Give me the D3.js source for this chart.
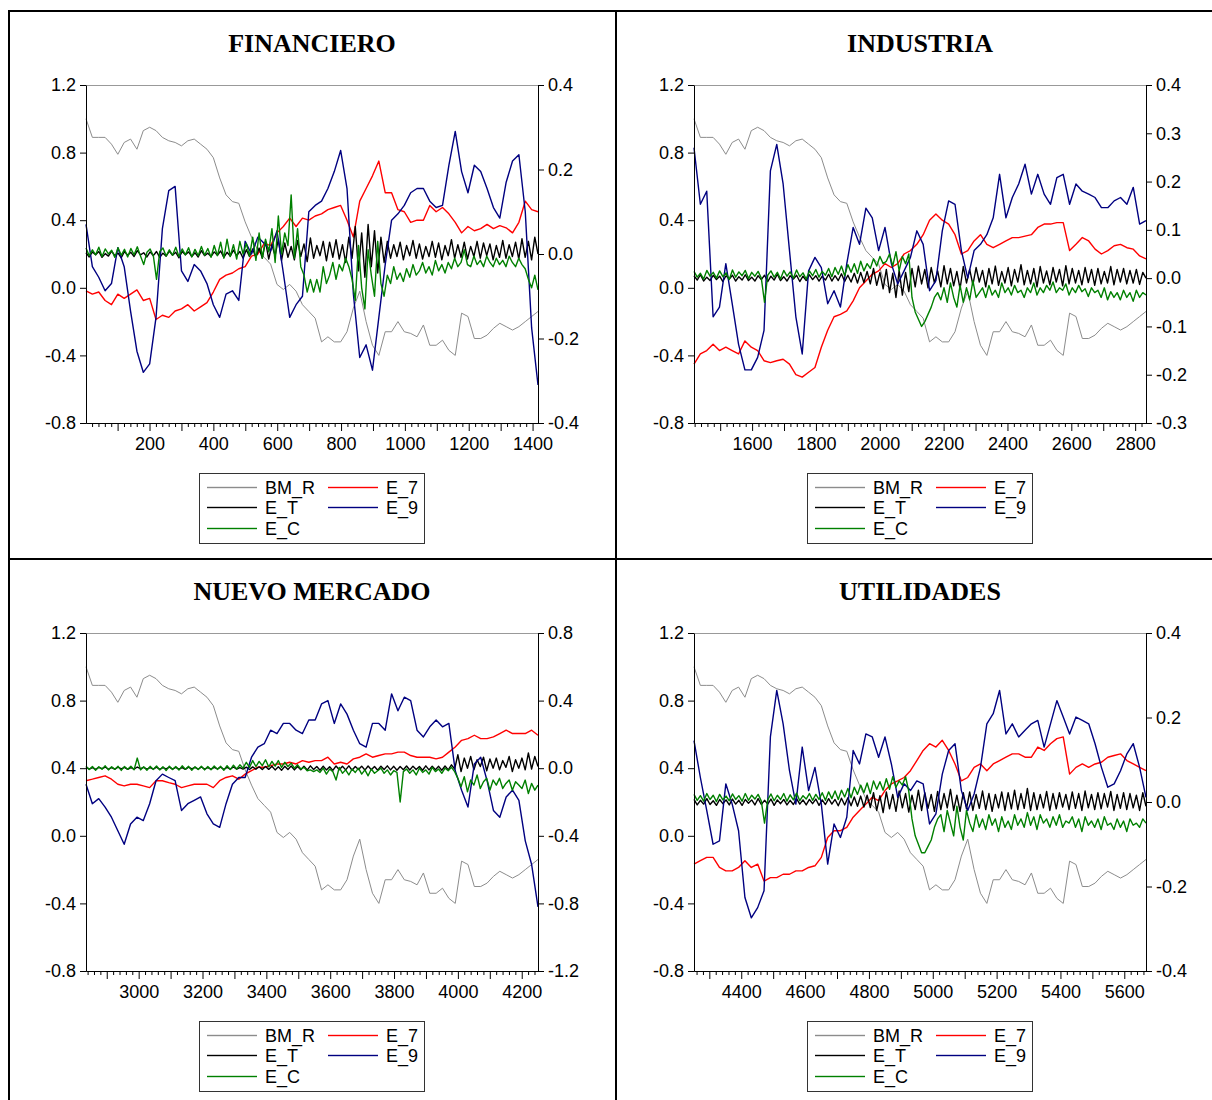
<!DOCTYPE html>
<html>
<head>
<meta charset="utf-8">
<script src="https://cdn.jsdelivr.net/npm/d3@7"></script>
<style>
body { margin: 0; background: #fff; }
svg { display: block; }
</style>
</head>
<body>
<div id="myDiv"></div>
<script>
// sampled values: E_7, E_9 and BM_R use 72 evenly spaced points per panel,
// the noisy E_T and E_C series use 142 points

// BM_R is the same series in the four panels (left axis)
let bmR = [1.00, 0.89, 0.89, 0.89, 0.85, 0.79, 0.86, 0.88, 0.82, 0.93,
    0.95, 0.93, 0.89, 0.87, 0.86, 0.84, 0.87, 0.88, 0.85, 0.82,
    0.77, 0.65, 0.55, 0.51, 0.50, 0.39, 0.30, 0.22, 0.18, 0.14,
    0.02, -0.01, 0.02, -0.02, -0.10, -0.14, -0.18, -0.32, -0.29, -0.32,
    -0.32, -0.26, -0.12, -0.02, -0.20, -0.34, -0.40, -0.26, -0.26, -0.20,
    -0.26, -0.27, -0.29, -0.22, -0.34, -0.34, -0.31, -0.37, -0.40, -0.15,
    -0.17, -0.30, -0.30, -0.28, -0.24, -0.21, -0.23, -0.25, -0.23, -0.20,
    -0.17, -0.14];

// FINANCIERO
let finE7 = [-0.087, -0.095, -0.09, -0.11, -0.12, -0.095, -0.105, -0.095, -0.085, -0.11,
    -0.105, -0.155, -0.145, -0.15, -0.135, -0.13, -0.12, -0.135, -0.125, -0.115,
    -0.09, -0.06, -0.05, -0.045, -0.035, -0.03, -0.005, 0.0, 0.025, 0.02,
    0.05, 0.065, 0.085, 0.065, 0.085, 0.08, 0.09, 0.095, 0.105, 0.11,
    0.115, 0.08, 0.04, 0.125, 0.155, 0.185, 0.22, 0.145, 0.145, 0.105,
    0.1, 0.075, 0.08, 0.08, 0.115, 0.1, 0.11, 0.095, 0.075, 0.05,
    0.065, 0.055, 0.06, 0.07, 0.06, 0.067, 0.062, 0.05, 0.075, 0.125,
    0.105, 0.1];
let finET = [0.003, -0.007, 0.005, -0.002, 0.006, -0.008, 0.001, -0.005, 0.007, -0.004,
    0.002, -0.009, 0.006, -0.003, 0.004, -0.006, 0.008, -0.002, 0.003, -0.007,
    0.005, -0.004, 0.006, -0.008, 0.002, -0.005, 0.007, -0.003, 0.004, -0.009,
    0.006, -0.002, 0.005, -0.006, 0.003, -0.007, 0.008, -0.004, 0.002, -0.006,
    0.005, -0.003, 0.007, -0.008, 0.004, -0.005, 0.009, -0.004, 0.006, -0.01,
    0.01, -0.006, 0.012, -0.008, 0.014, -0.01,
    0.03, -0.012, 0.022, -0.004, 0.035, -0.015, 0.026, -0.008, 0.018, -0.014,
    0.032, -0.006, 0.024, -0.018, 0.038, -0.01, 0.02, -0.004, 0.03, -0.016,
    0.028, -0.008, 0.034, -0.012, 0.022, -0.02, 0.04, -0.01,
    0.065, -0.04, 0.05, -0.055, 0.07, -0.03, 0.055, -0.045, 0.04, -0.02,
    0.03, -0.01, 0.022, -0.006, 0.028, -0.014, 0.02, -0.004, 0.032, -0.01,
    0.024, -0.012, 0.018, -0.006, 0.03, -0.008, 0.026, -0.014, 0.02, -0.004,
    0.034, -0.01, 0.022, -0.008, 0.028, -0.012, 0.018, -0.006, 0.03, -0.01,
    0.026, -0.004, 0.024, -0.014, 0.02, -0.008, 0.032, -0.01, 0.022, -0.006,
    0.028, -0.012, 0.036, -0.008, 0.03, -0.014, 0.04, 0.0];
let finE9 = [0.07, -0.03, -0.055, -0.087, -0.07, 0.015, -0.03, -0.135, -0.23, -0.28,
    -0.26, -0.15, 0.06, 0.15, 0.16, -0.04, -0.065, -0.025, -0.04, -0.07,
    -0.12, -0.15, -0.095, -0.087, -0.11, 0.03, 0.0, 0.04, 0.025, 0.007,
    0.055, -0.045, -0.15, -0.12, -0.10, 0.1, 0.115, 0.125, 0.155, 0.195,
    0.245, 0.155, -0.095, -0.245, -0.215, -0.275, -0.15, -0.025, 0.08, 0.095,
    0.115, 0.145, 0.155, 0.155, 0.125, 0.11, 0.115, 0.21, 0.29, 0.195,
    0.145, 0.21, 0.195, 0.155, 0.11, 0.085, 0.17, 0.22, 0.235, 0.1,
    -0.175, -0.31];
let finEC = [0.014, -0.004, 0.01, -0.002, 0.016, -0.006, 0.012, 0.0, 0.009, -0.008,
    0.015, -0.003, 0.011, -0.007, 0.013, -0.002, 0.017, -0.005, -0.025, 0.004,
    0.012, -0.004, -0.06, 0.006, 0.014, -0.005, 0.01, -0.003, 0.016, -0.006,
    0.012, -0.002, 0.015, -0.007, 0.011, -0.004, 0.018, -0.003, 0.013, -0.008,
    0.02, -0.004, 0.028, -0.01, 0.035, -0.006, 0.022, -0.012, 0.03, 0.0,
    0.025, -0.005,
    0.04, -0.015, 0.05, -0.01, 0.035, 0.005, 0.06, -0.02, 0.09, 0.0,
    0.05, 0.02, 0.14, -0.01, 0.06, -0.03, -0.05, -0.09, -0.06, -0.09,
    -0.06, -0.09, -0.03, -0.07, -0.05, -0.02, -0.06, -0.025, -0.04, -0.01,
    -0.03, -0.06, -0.11, 0.02, -0.08, -0.13, 0.01, -0.05, -0.1, 0.03, -0.07, -0.1,
    -0.05, -0.07, -0.03, -0.06, -0.045, -0.065, -0.035, -0.055, -0.025, -0.05,
    -0.04, -0.02, -0.045, -0.03, -0.05, -0.015, -0.04, -0.025, -0.045, -0.02,
    -0.035, -0.01, -0.03, -0.02, 0.01, -0.025, -0.03, -0.005, -0.025, -0.015,
    -0.03, -0.005, -0.02, -0.03, -0.01, -0.025, -0.015, -0.03, -0.005, -0.02,
    -0.03, -0.01, -0.025, -0.035,
    -0.06, -0.08, -0.05, -0.085];

// INDUSTRIA
let indE7 = [-0.178, -0.157, -0.15, -0.137, -0.15, -0.143, -0.15, -0.157, -0.13, -0.143,
    -0.15, -0.171, -0.175, -0.171, -0.168, -0.178, -0.2, -0.205, -0.195, -0.185,
    -0.143, -0.108, -0.08, -0.075, -0.068, -0.047, -0.02, -0.006, 0.008, 0.015,
    0.03, 0.022, 0.03, 0.05, 0.057, 0.07, 0.09, 0.12, 0.133, 0.12,
    0.112, 0.09, 0.05, 0.057, 0.077, 0.09, 0.07, 0.063, 0.07, 0.077,
    0.084, 0.084, 0.087, 0.09, 0.105, 0.112, 0.112, 0.115, 0.115, 0.057,
    0.07, 0.084, 0.077, 0.06, 0.05, 0.057, 0.067, 0.07, 0.063, 0.06,
    0.046, 0.04];
let indET = [0.005, -0.004, 0.007, -0.006, 0.002, -0.005, 0.006, -0.003, 0.004, -0.007,
    0.005, -0.002, 0.006, -0.006, 0.003, -0.004, 0.007, -0.005, 0.002, -0.006,
    0.005, -0.003, 0.006, -0.007, 0.004, -0.004, 0.008, -0.005, 0.003, -0.006,
    0.005, -0.002, 0.006, -0.007, 0.004, -0.005, 0.007, -0.003, 0.005, -0.006,
    0.004, -0.004, 0.008, -0.006, 0.005, -0.005, 0.009, -0.007, 0.006, -0.008,
    0.01, -0.01, 0.012, -0.009, 0.014, -0.012,
    0.02, -0.015, 0.012, -0.022, 0.018, -0.03, 0.01, -0.04, 0.016, -0.035,
    0.012, -0.028, 0.02, -0.018, 0.025, -0.012, 0.018, -0.02, 0.022, -0.01,
    0.015, -0.018, 0.026, -0.012, 0.02, -0.016, 0.014, -0.022, 0.024, -0.01,
    0.018, -0.014, 0.022, -0.008, 0.016, -0.018, 0.02, -0.012, 0.025, -0.015,
    0.014, -0.01, 0.022, -0.016, 0.018, -0.008, 0.028, -0.014, 0.016, -0.012,
    0.02, -0.018, 0.024, -0.01, 0.015, -0.014, 0.022, -0.008, 0.018, -0.016,
    0.026, -0.012, 0.02, -0.01, 0.016, -0.014, 0.022, -0.009, 0.018, -0.015,
    0.02, -0.012, 0.014, -0.01, 0.024, -0.014, 0.018, -0.008, 0.02, -0.012,
    0.016, -0.01, 0.018, -0.013, 0.012, 0.0];
let indE9 = [0.27, 0.153, 0.18, -0.08, -0.06, 0.03, -0.053, -0.137, -0.19, -0.19,
    -0.164, -0.108, 0.222, 0.277, 0.195, 0.057, -0.08, -0.157, 0.015, 0.043,
    0.022, -0.053, -0.026, -0.06, 0.03, 0.105, 0.07, 0.145, 0.125, 0.057,
    0.105, 0.03, -0.012, 0.015, 0.043, 0.098, 0.07, -0.026, -0.005, 0.098,
    0.16, 0.153, 0.057, 0.0, 0.057, 0.07, 0.09, 0.125, 0.215, 0.125,
    0.167, 0.195, 0.236, 0.174, 0.215, 0.174, 0.153, 0.208, 0.215, 0.153,
    0.195, 0.18, 0.174, 0.167, 0.146, 0.146, 0.16, 0.167, 0.153, 0.188,
    0.112, 0.119];
let indEC = [0.014, 0.002, 0.01, -0.002, 0.016, 0.004, 0.012, 0.0, 0.015, 0.003,
    0.011, -0.003, 0.017, 0.002, 0.013, 0.005, 0.016, -0.001, 0.012, 0.004,
    0.014, 0.0, -0.05, 0.006, 0.015, 0.002, 0.012, -0.002, 0.016, 0.004,
    0.013, 0.0, 0.017, 0.003, 0.011, -0.002, 0.015, 0.005, 0.018, 0.002,
    0.014, 0.006, 0.02, 0.003, 0.022, 0.008, 0.025, 0.005, 0.028, 0.012,
    0.03, 0.01, 0.035, 0.015, 0.03, 0.02, 0.04, 0.025, 0.045, 0.03,
    0.035, 0.05, 0.025, 0.055, 0.015, 0.045, 0.03, 0.05, -0.04, -0.07, -0.085, -0.1,
    -0.09, -0.075, -0.06, -0.04, -0.03, -0.045, -0.02, -0.05, -0.01, -0.04,
    -0.06, -0.015, -0.05, -0.02, -0.045, -0.005, -0.04, -0.03, -0.02, -0.04,
    -0.015, -0.035, -0.025, -0.04, -0.01, -0.03, -0.02, -0.035, -0.015, -0.03,
    -0.025, -0.04, -0.02, -0.03, -0.01, -0.035, -0.02, -0.03, -0.015, -0.025,
    -0.008, -0.03, -0.02, -0.025, -0.012, -0.035, -0.02, -0.03, -0.015, -0.028,
    -0.022, -0.038, -0.02, -0.03, -0.025, -0.04, -0.02, -0.045, -0.028, -0.04,
    -0.03, -0.045, -0.025, -0.04, -0.03, -0.048, -0.025, -0.04, -0.03, -0.035];

// NUEVO MERCADO
let nmE7 = [-0.074, -0.065, -0.055, -0.045, -0.065, -0.095, -0.105, -0.095, -0.095, -0.105,
    -0.115, -0.074, -0.074, -0.085, -0.095, -0.115, -0.105, -0.095, -0.095, -0.095,
    -0.115, -0.074, -0.055, -0.045, -0.065, -0.035, -0.015, 0.006, 0.006, 0.015,
    0.025, 0.025, 0.035, 0.025, 0.045, 0.035, 0.045, 0.045, 0.065, 0.025,
    0.035, 0.025, 0.055, 0.065, 0.085, 0.065, 0.075, 0.085, 0.085, 0.095,
    0.095, 0.075, 0.065, 0.065, 0.065, 0.055, 0.065, 0.095, 0.125, 0.165,
    0.175, 0.195, 0.175, 0.175, 0.185, 0.205, 0.225, 0.205, 0.205, 0.205,
    0.225, 0.195];
let nmET = [0.006, -0.005, 0.004, -0.007, 0.005, -0.003, 0.007, -0.006, 0.003, -0.005,
    0.006, -0.004, 0.005, -0.007, 0.004, -0.005, 0.007, -0.003, 0.005, -0.006,
    0.004, -0.005, 0.006, -0.007, 0.003, -0.004, 0.006, -0.005, 0.005, -0.006,
    0.004, -0.007, 0.006, -0.004, 0.005, -0.006, 0.007, -0.005, 0.004, -0.006,
    0.005, -0.004, 0.006, -0.007, 0.005, -0.005, 0.007, -0.006, 0.004, -0.005,
    0.006, -0.008, 0.008, -0.006, 0.009, -0.008, 0.01, -0.007, 0.012, -0.01,
    0.009, -0.012, 0.011, -0.008, 0.013, -0.01, 0.01, -0.009, 0.012, -0.011,
    0.014, -0.008, 0.01, -0.012, 0.012, -0.01, 0.009, -0.013, 0.013, -0.009,
    0.011, -0.01, 0.014, -0.012, 0.01, -0.008, 0.012, -0.011, 0.013, -0.009,
    0.01, -0.012, 0.012, -0.008, 0.014, -0.01, 0.011, -0.012, 0.01, -0.009,
    0.013, -0.011, 0.012, -0.008, 0.01, -0.012, 0.014, -0.01, 0.012, -0.009,
    0.011, -0.012, 0.013, -0.01, 0.02, -0.005,
    0.08, -0.02, 0.06, 0.0, 0.07, -0.01, 0.05, 0.01, 0.065, -0.015,
    0.055, 0.0, 0.06, -0.01, 0.045, 0.005, 0.07, -0.02, 0.05, 0.0,
    0.06, -0.01, 0.09, -0.005, 0.07, 0.01];
let nmE9 = [-0.095, -0.21, -0.18, -0.23, -0.29, -0.37, -0.45, -0.33, -0.29, -0.31,
    -0.21, -0.074, -0.035, -0.055, -0.074, -0.25, -0.21, -0.19, -0.17, -0.27,
    -0.33, -0.35, -0.21, -0.095, -0.055, -0.055, 0.065, 0.125, 0.145, 0.225,
    0.205, 0.265, 0.265, 0.225, 0.205, 0.285, 0.285, 0.38, 0.40, 0.265,
    0.38, 0.32, 0.225, 0.145, 0.125, 0.265, 0.265, 0.225, 0.44, 0.34,
    0.42, 0.40, 0.225, 0.185, 0.245, 0.285, 0.245, 0.265, -0.015, -0.13,
    -0.23, 0.025, 0.065, -0.074, -0.25, -0.29, -0.17, -0.13, -0.19, -0.43,
    -0.57, -0.82];
let nmEC = [0.012, -0.008, 0.01, -0.012, 0.008, -0.006, 0.014, -0.01, 0.009, -0.007,
    0.011, -0.013, 0.01, -0.006, 0.012, -0.009, 0.06, -0.01, 0.008, -0.012,
    0.011, -0.007, 0.013, -0.01, 0.009, -0.014, 0.012, -0.008, 0.01, -0.011,
    0.014, -0.006, 0.011, -0.012, 0.009, -0.008, 0.012, -0.01, 0.01, -0.009,
    0.013, -0.007, 0.011, -0.012, 0.015, -0.008, 0.018, -0.005, 0.02, 0.0,
    0.035, 0.005, 0.045, 0.01, 0.04, 0.015, 0.05, 0.008, 0.04, 0.012,
    0.045, 0.005, 0.035, 0.01, 0.03, 0.0, 0.02, -0.005, 0.005, -0.015,
    -0.01, -0.02,
    -0.01, -0.025, 0.0, -0.035, -0.005, -0.02, -0.07, 0.005, -0.03, -0.01,
    -0.04, -0.005, -0.025, 0.0, -0.035, -0.01, -0.045, -0.005, -0.03, -0.015,
    0.0, -0.03, -0.01, -0.04, -0.015, -0.025, -0.2, -0.02, -0.005, -0.03,
    -0.01, -0.04, 0.0, -0.025, -0.01, -0.035, 0.005, -0.02, -0.005, -0.03,
    0.0, -0.015, 0.005, -0.02,
    -0.06, -0.11, -0.05, -0.14, -0.07, -0.1, -0.04, -0.12, -0.08, -0.06,
    -0.13, -0.07, -0.1, -0.06, -0.12, -0.09, -0.07, -0.13, -0.08, -0.1,
    -0.12, -0.07, -0.15, -0.09, -0.13, -0.1];

// UTILIDADES
let utlE7 = [-0.147, -0.139, -0.131, -0.131, -0.155, -0.163, -0.163, -0.155, -0.139, -0.155,
    -0.147, -0.187, -0.179, -0.179, -0.171, -0.171, -0.163, -0.163, -0.155, -0.151,
    -0.131, -0.084, -0.068, -0.068, -0.06, -0.036, -0.02, -0.005, 0.011, 0.003,
    0.027, 0.043, 0.05, 0.058, 0.074, 0.098, 0.122, 0.138, 0.13, 0.146,
    0.122, 0.09, 0.05, 0.058, 0.082, 0.09, 0.074, 0.09, 0.098, 0.106,
    0.114, 0.114, 0.106, 0.106, 0.13, 0.122, 0.138, 0.15, 0.154, 0.066,
    0.082, 0.09, 0.082, 0.09, 0.094, 0.106, 0.11, 0.114, 0.098, 0.09,
    0.082, 0.074];
let utlET = [0.006, -0.007, 0.004, -0.005, 0.008, -0.006, 0.003, -0.008, 0.006, -0.004,
    0.005, -0.007, 0.007, -0.005, 0.004, -0.008, 0.006, -0.003, 0.005, -0.007,
    0.008, -0.006, 0.004, -0.005, 0.007, -0.008, 0.005, -0.004, 0.006, -0.007,
    0.004, -0.006, 0.008, -0.005, 0.005, -0.007, 0.006, -0.004, 0.007, -0.008,
    0.005, -0.006, 0.008, -0.005, 0.006, -0.009, 0.009, -0.007, 0.01, -0.009,
    0.012, -0.01, 0.014, -0.012, 0.016, -0.013,
    0.022, -0.02, 0.015, -0.025, 0.024, -0.016, 0.018, -0.022, 0.026, -0.014,
    0.02, -0.024, 0.016, -0.018, 0.028, -0.02, 0.022, -0.015, 0.018, -0.022,
    0.025, -0.018, 0.02, -0.014, 0.03, -0.02, 0.016, -0.022, 0.022, -0.016,
    0.024, -0.02, 0.018, -0.015, 0.026, -0.018, 0.02, -0.022, 0.018, -0.014,
    0.024, -0.02, 0.022, -0.016, 0.028, -0.018, 0.02, -0.015, 0.032, -0.02,
    0.022, -0.018, 0.018, -0.014, 0.025, -0.02, 0.02, -0.016, 0.022, -0.012,
    0.018, -0.018, 0.024, -0.015, 0.02, -0.02, 0.026, -0.014, 0.018, -0.018,
    0.022, -0.016, 0.02, -0.012, 0.025, -0.02, 0.018, -0.015, 0.022, -0.018,
    0.02, -0.014, 0.016, -0.02, 0.022, -0.01];
let utlE9 = [0.145, 0.058, -0.02, -0.1, -0.092, 0.043, -0.005, -0.068, -0.226, -0.274,
    -0.25, -0.21, 0.154, 0.264, 0.185, 0.074, -0.005, 0.13, 0.027, 0.082,
    -0.005, -0.147, -0.052, -0.084, -0.036, 0.122, 0.09, 0.161, 0.154, 0.106,
    0.154, 0.09, 0.011, 0.043, 0.027, 0.05, 0.043, -0.052, -0.028, 0.066,
    0.122, 0.138, 0.027, -0.02, 0.019, 0.082, 0.185, 0.209, 0.264, 0.161,
    0.185, 0.154, 0.17, 0.185, 0.193, 0.13, 0.185, 0.24, 0.201, 0.161,
    0.201, 0.193, 0.185, 0.138, 0.082, 0.035, 0.043, 0.074, 0.114, 0.138,
    0.082, 0.011];
let utlEC = [0.018, 0.004, 0.015, 0.002, 0.02, 0.006, 0.016, 0.001, 0.018, 0.005,
    0.014, 0.003, 0.019, 0.006, 0.015, 0.002, 0.02, 0.004, 0.016, 0.007,
    0.018, 0.002, -0.05, 0.005, 0.019, 0.003, 0.016, 0.006, 0.02, 0.002,
    0.017, 0.005, 0.021, 0.003, 0.015, 0.007, 0.02, 0.004, 0.018, 0.006,
    0.022, 0.004, 0.024, 0.008, 0.026, 0.006, 0.028, 0.012, 0.032, 0.01,
    0.035, 0.018, 0.04, 0.022, 0.045, 0.02, 0.05, 0.03, 0.048, 0.028,
    0.055, 0.03, 0.06, 0.035, 0.05, 0.04, 0.06, 0.025, -0.04, -0.08, -0.1, -0.12,
    -0.12, -0.105, -0.09, -0.06, -0.04, -0.03, -0.07, -0.02, -0.05, -0.08,
    -0.01, -0.06, -0.09, -0.02, -0.05, -0.07, -0.03, -0.06, -0.04, -0.065,
    -0.03, -0.055, -0.04, -0.07, -0.035, -0.06, -0.045, -0.065, -0.03, -0.055,
    -0.04, -0.06, -0.025, -0.055, -0.035, -0.065, -0.03, -0.05, -0.04, -0.06,
    -0.035, -0.055, -0.03, -0.06, -0.045, -0.05, -0.035, -0.06, -0.04, -0.07,
    -0.035, -0.055, -0.045, -0.06, -0.04, -0.065, -0.035, -0.055, -0.05, -0.065,
    -0.04, -0.06, -0.045, -0.07, -0.04, -0.055, -0.05, -0.06, -0.04, -0.05];

// axis ticks
let leftTicks = [-0.8, -0.4, 0.0, 0.4, 0.8, 1.2];
let finTicks = [-0.4, -0.2, 0.0, 0.2, 0.4];
let indTicks = [-0.3, -0.2, -0.1, 0.0, 0.1, 0.2, 0.3, 0.4];
let nmTicks = [-1.2, -0.8, -0.4, 0.0, 0.4, 0.8];
let utlTicks = [-0.4, -0.2, 0.0, 0.2, 0.4];

// legend
let seriesNames = ['BM_R', 'E_7', 'E_T', 'E_9', 'E_C'];
let seriesColors = ['#8c8c8c', '#ff0000', '#000000', '#000080', '#008000'];

let nObs = 1417;

let panels = [
    {title: 'FINANCIERO', start: 1, left: 86, top: 85, rTicks: finTicks, data: [bmR, finE7, finET, finE9, finEC]},
    {title: 'INDUSTRIA', start: 1418, left: 694, top: 85, rTicks: indTicks, data: [bmR, indE7, indET, indE9, indEC]},
    {title: 'NUEVO MERCADO', start: 2835, left: 86, top: 633, rTicks: nmTicks, data: [bmR, nmE7, nmET, nmE9, nmEC]},
    {title: 'UTILIDADES', start: 4252, left: 694, top: 633, rTicks: utlTicks, data: [bmR, utlE7, utlET, utlE9, utlEC]}
];

let plotW = 452, plotH = 338;
let sans = 'Liberation Sans, Arial, Helvetica, sans-serif';
let serif = 'Liberation Serif, Times New Roman, serif';

function fmt(v){
    if (Math.abs(v) < 1e-9) v = 0;
    return v.toFixed(1);
}

let svg = d3.select('#myDiv').append('svg')
    .attr('width', 1212)
    .attr('height', 1100);

// panel borders
let borders = [[8, 11, 1212, 11], [9, 10, 9, 1100], [616, 11, 616, 1100], [8, 559, 1212, 559]];
svg.selectAll('.border').data(borders).enter().append('line')
    .attr('class', 'border')
    .attr('x1', d => d[0]).attr('y1', d => d[1])
    .attr('x2', d => d[2]).attr('y2', d => d[3])
    .attr('stroke', '#000')
    .attr('stroke-width', 2);

panels.forEach(function(p){
    let left = p.left, right = p.left + plotW, top = p.top, bottom = p.top + plotH;
    let g = svg.append('g');

    let x = d3.scaleLinear().domain([p.start, p.start + nObs - 1]).range([left, right]);
    let yL = d3.scaleLinear().domain([-0.8, 1.2]).range([bottom, top]);
    let yR = d3.scaleLinear().domain([p.rTicks[0], p.rTicks[p.rTicks.length - 1]]).range([bottom, top]);

    // title
    g.append('text')
        .attr('x', (left + right) / 2)
        .attr('y', top - 33)
        .attr('text-anchor', 'middle')
        .attr('font-family', serif)
        .attr('font-weight', 'bold')
        .attr('font-size', 26)
        .text(p.title);

    // series
    p.data.forEach(function(arr, j){
        let ys = j === 0 ? yL : yR;
        let line = d3.line()
            .x((d, i) => x(p.start + i * (nObs - 1) / (arr.length - 1)))
            .y(d => ys(d));
        g.append('path')
            .datum(arr)
            .attr('d', line)
            .attr('fill', 'none')
            .attr('stroke', seriesColors[j])
            .attr('stroke-width', j === 0 ? 1 : 1.4)
            .attr('stroke-linejoin', 'round');
    });

    // frame top
    g.append('line').attr('x1', left).attr('x2', right).attr('y1', top + 0.5).attr('y2', top + 0.5)
        .attr('stroke', '#999');

    // left and right axes
    g.append('g')
        .attr('transform', `translate(${left},0)`)
        .call(d3.axisLeft(yL).tickValues(leftTicks).tickFormat(fmt).tickSize(6).tickPadding(4).tickSizeOuter(0));
    g.append('g')
        .attr('transform', `translate(${right},0)`)
        .call(d3.axisRight(yR).tickValues(p.rTicks).tickFormat(fmt).tickSize(6).tickPadding(4).tickSizeOuter(0));

    // bottom axis: minor ticks every 20, major every 100, labels every 200
    let first = Math.ceil(p.start / 20) * 20;
    let last = p.start + nObs - 1;
    let minor = d3.range(first, last + 1, 20).filter(v => v % 100 !== 0);
    let major = d3.range(Math.ceil(p.start / 100) * 100, last + 1, 100);
    let labels = major.filter(v => v % 200 === 0);

    g.append('g')
        .attr('transform', `translate(0,${bottom})`)
        .call(d3.axisBottom(x).tickValues(minor).tickFormat('').tickSize(4).tickSizeOuter(0));
    let axB = g.append('g')
        .attr('transform', `translate(0,${bottom})`)
        .call(d3.axisBottom(x).tickValues(major).tickFormat(v => labels.indexOf(v) >= 0 ? v : '')
            .tickSize(8).tickPadding(5).tickSizeOuter(0));

    g.selectAll('.domain').attr('stroke', '#000');
    g.selectAll('.tick line').attr('stroke', '#000');
    g.selectAll('.tick text')
        .attr('font-family', sans)
        .attr('font-size', 18)
        .attr('fill', '#000');
    axB.selectAll('.tick text').attr('y', 14);

    // legend, two columns filled row by row
    let lx = left + 113, ly = bottom + 50;
    let legendItems = seriesNames.map(function(name, j){
        return {name: name, color: seriesColors[j], col: j % 2, row: Math.floor(j / 2)};
    });
    let rowY = [14, 34, 55];
    let leg = svg.append('g').attr('transform', `translate(${lx},${ly})`);
    leg.append('rect')
        .attr('x', 0.5).attr('y', 0.5)
        .attr('width', 225).attr('height', 70)
        .attr('fill', 'none')
        .attr('stroke', '#333');
    let items = leg.selectAll('.item').data(legendItems).enter().append('g')
        .attr('class', 'item')
        .attr('transform', d => `translate(${8 + d.col * 121},${rowY[d.row]})`);
    items.append('rect')
        .attr('x', 0).attr('y', -0.2)
        .attr('width', 50).attr('height', 1.4)
        .attr('fill', d => d.color);
    items.append('text')
        .attr('x', 58)
        .attr('y', 6.5)
        .attr('font-family', sans)
        .attr('font-size', 18)
        .attr('fill', '#000')
        .text(d => d.name);
});
</script>
</body>
</html>
